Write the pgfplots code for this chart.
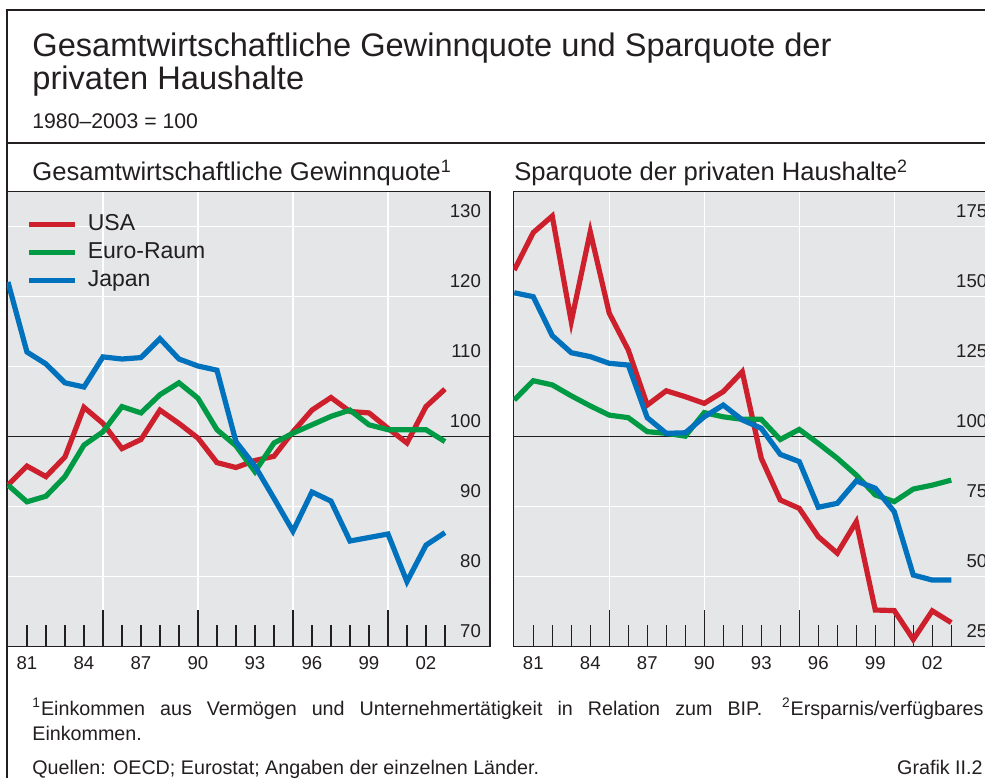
\documentclass[border=0pt]{standalone}
\usepackage{fontspec}
\setmainfont{Liberation Sans}
\usepackage{pgfplots}
\usepackage{pgfplotstable}
\pgfplotsset{compat=1.18}

\definecolor{bisred}{RGB}{205,32,44}
\definecolor{bisgreen}{RGB}{0,154,68}
\definecolor{bisblue}{RGB}{0,113,188}
\definecolor{bisgray}{RGB}{229,230,232}
\definecolor{bistext}{RGB}{35,31,32}

% Gewinnquote, 1980-2003 = 100
\pgfplotstableread{
year usa   euro  japan
1980 93.1  93.1  122.1
1981 95.8  90.7  112.1
1982 94.3  91.5  110.4
1983 97.1  94.3  107.7
1984 104.2 98.8  107.1
1985 101.9 100.7 111.4
1986 98.3  104.3 111.1
1987 99.6  103.4 111.3
1988 103.8 106.0 114.0
1989 101.9 107.7 111.1
1990 99.8  105.5 110.1
1991 96.3  101.0 109.5
1992 95.6  98.7  99.3
1993 96.6  95.0  95.8
1994 97.2  99.1  91.2
1995 100.7 100.5 86.5
1996 103.8 101.7 92.1
1997 105.6 102.9 90.8
1998 103.6 103.8 85.1
1999 103.4 101.7 85.6
2000 101.2 101.0 86.1
2001 99.1  101.0 79.3
2002 104.3 101.0 84.5
2003 106.8 99.3  86.3
}\gewinn

% Sparquote der privaten Haushalte
\pgfplotstableread{
year usa   euro  japan
1980 159.5 113.1 151.4
1981 172.9 120.0 150.0
1982 178.8 118.5 136.1
1983 141.1 114.6 130.0
1984 173.2 111.0 128.6
1985 144.1 107.7 126.2
1986 131.0 106.8 125.6
1987 111.3 101.8 106.8
1988 116.4 101.2 101.2
1989 114.3 100.2 101.4
1990 111.9 108.6 107.1
1991 116.1 107.1 111.3
1992 123.2 106.2 106.0
1993 92.3  106.2 103.0
1994 77.4  99.0  93.7
1995 74.4  102.6 91.1
1996 64.3  97.6  74.8
1997 58.4  92.3  76.2
1998 69.6  86.3  84.2
1999 38.1  79.2  81.6
2000 37.9  76.8  73.2
2001 27.6  81.3  50.6
2002 37.8  82.7  48.8
2003 33.6  84.5  48.8
}\sparen

\pgfplotsset{
  panel/.style={
    scale only axis, width=241.5pt, height=227.5pt,
    anchor=south west,
    axis background/.style={fill=bisgray},
    axis line style={bistext, line width=0.7pt},
    xmin=1979.95, xmax=2005.37,
    xtick={1985,1990,1995,2000},
    xticklabels={,,,},
    minor xtick={1981,...,2003},
    xtick pos=lower, tick align=inside,
    major tick length=18.5pt, minor tick length=11pt,
    x tick style={bistext, line width=0.7pt},
    y tick style={draw=none},
    xmajorgrids, ymajorgrids,
    grid style={white, line width=0.7pt},
    extra x ticks={1981,1984,1987,1990,1993,1996,1999,2002},
    extra x tick labels={81,84,87,90,93,96,99,02},
    extra x tick style={xmajorgrids=false, major tick length=0pt},
    x tick label style={font=\fontsize{9.3}{11}\selectfont, text=bistext, yshift=-1.5pt},
    yticklabel pos=right,
    y tick label style={font=\fontsize{9.3}{11}\selectfont, text=bistext,
      anchor=south east, xshift=-1pt, yshift=1pt},
    /pgf/number format/assume math mode=true,
    clip=true,
  },
  ser/.style={line width=2.6pt, #1},
}

\begin{document}
\begin{tikzpicture}
\useasboundingbox (0,0) rectangle (492.5pt,389pt);
\fill[white] (0,0) rectangle (492.5pt,389pt);

% frame
\draw[bistext, line width=0.7pt] (3.5pt,0) -- (3.5pt,384pt) -- (500pt,384pt);
\draw[bistext, line width=0.7pt] (3.5pt,317.5pt) -- (500pt,317.5pt);

\node[anchor=base west, inner sep=0pt, text=bistext, font=\fontsize{16.3}{19}\selectfont]
  at (16pt,360.5pt) {Gesamtwirtschaftliche Gewinnquote und Sparquote der};
\node[anchor=base west, inner sep=0pt, text=bistext, font=\fontsize{16.3}{19}\selectfont]
  at (16pt,344pt) {privaten Haushalte};
\node[anchor=base west, inner sep=0pt, text=bistext, font=\fontsize{10.6}{13}\selectfont]
  at (16pt,324.75pt) {1980–2003 = 100};

\node[anchor=base west, inner sep=0pt, text=bistext, font=\fontsize{12.8}{15}\selectfont]
  at (16pt,298.5pt) {Gesamtwirtschaftliche Gewinnquote\textsuperscript{1}};
\node[anchor=base west, inner sep=0pt, text=bistext, font=\fontsize{12.8}{15}\selectfont]
  at (257pt,298.5pt) {Sparquote der privaten Haushalte\textsuperscript{2}};

\begin{axis}[panel, at={(3.5pt,65.65pt)},
  ymin=70, ymax=135, ytick={70,80,...,130},
  legend style={at={(0.04,0.955)}, anchor=north west, draw=none, fill=none,
    font=\fontsize{11.5}{13}\selectfont, text=bistext, inner sep=0pt,
    row sep=2.6pt,
    nodes={inner sep=1pt}},
  legend cell align=left,
  legend image code/.code={\draw[#1, line width=2.5pt] (0pt,0pt) -- (23pt,0pt);
    \path (27pt,0pt);},
]
\addplot[bistext, line width=0.7pt, forget plot] coordinates {(1979,100) (2006,100)};
\addplot[ser=bisred]   table[x=year, y=usa]   {\gewinn};
\addplot[ser=bisgreen] table[x=year, y=euro]  {\gewinn};
\addplot[ser=bisblue]  table[x=year, y=japan] {\gewinn};
\legend{USA, Euro-Raum, Japan}
\end{axis}

\begin{axis}[panel, at={(256.65pt,65.65pt)},
  ymin=25, ymax=187.5, ytick={25,50,...,175}]
\addplot[bistext, line width=0.7pt] coordinates {(1979,100) (2006,100)};
\addplot[ser=bisred]   table[x=year, y=usa]   {\sparen};
\addplot[ser=bisgreen] table[x=year, y=euro]  {\sparen};
\addplot[ser=bisblue]  table[x=year, y=japan] {\sparen};
\end{axis}

% footnotes
\node[anchor=base west, inner sep=0pt, text=bistext, font=\fontsize{9.85}{12.5}\selectfont,
  text width=475.5pt, align=justify]
  at (16pt,31.5pt) {\textsuperscript{1}Einkommen aus Vermögen und Unternehmertätigkeit in Relation zum BIP.\quad \textsuperscript{2}Ersparnis/verfügbares\linebreak Einkommen.};
\node[anchor=base west, inner sep=0pt, text=bistext, font=\fontsize{9.85}{12}\selectfont]
  at (16pt,2pt) {Quellen: OECD; Eurostat; Angaben der einzelnen Länder.};
\node[anchor=base east, inner sep=0pt, text=bistext, font=\fontsize{9.85}{12}\selectfont]
  at (491.5pt,2pt) {Grafik II.2};
\end{tikzpicture}
\end{document}
